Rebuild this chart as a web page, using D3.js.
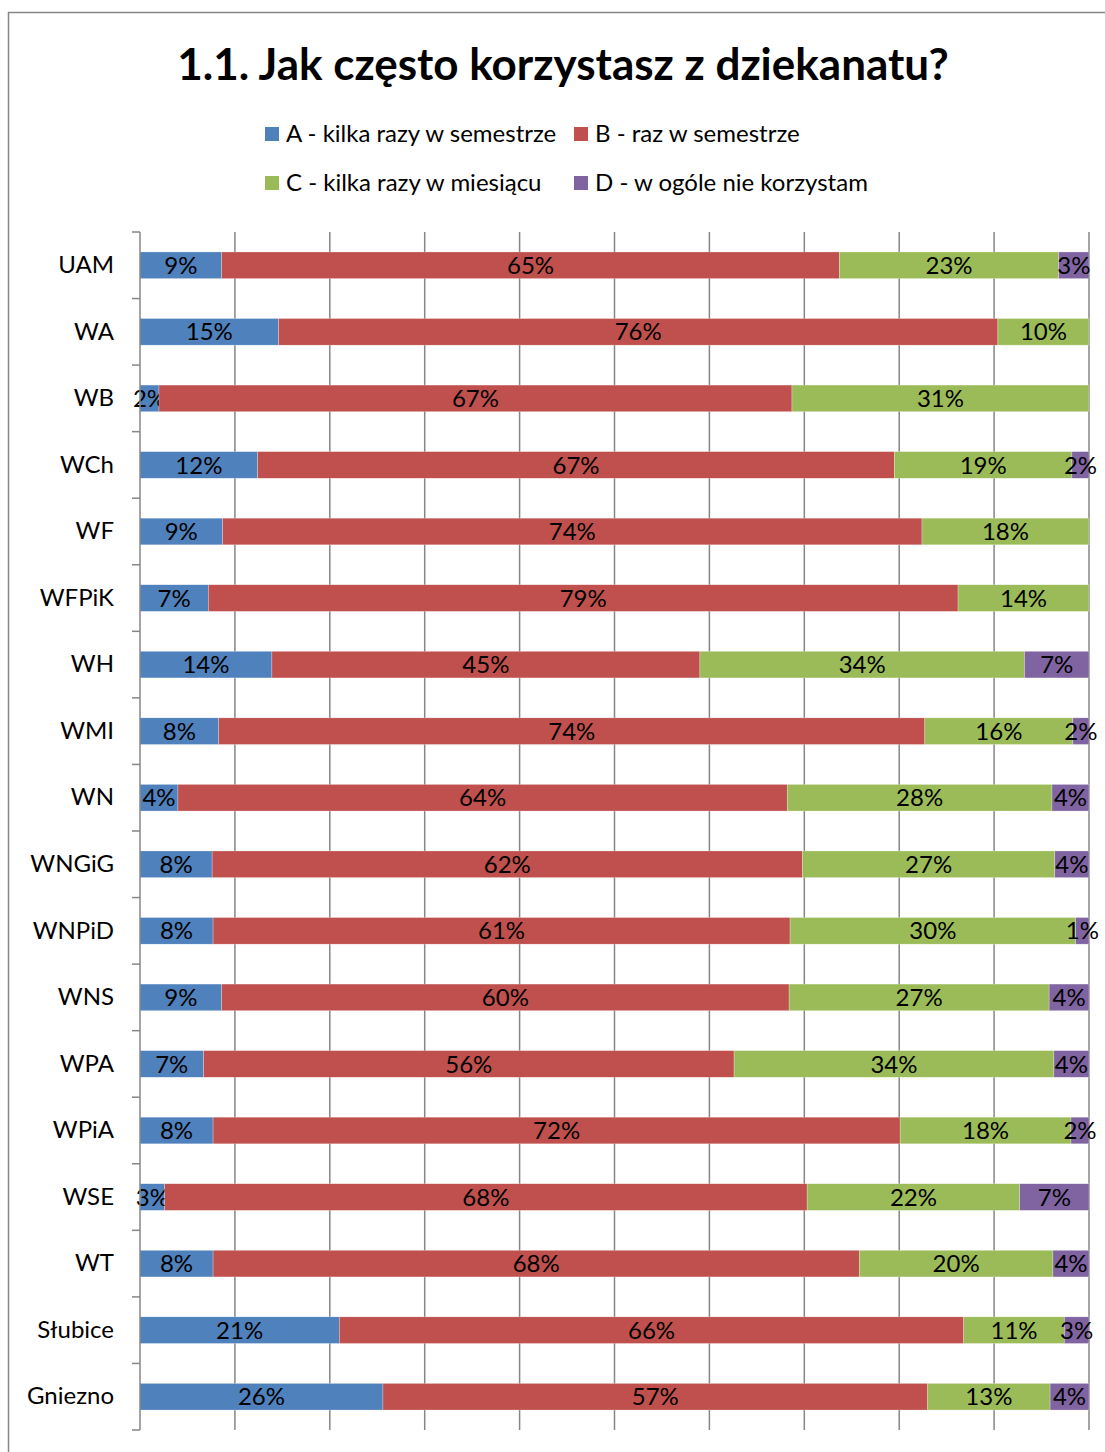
<!DOCTYPE html>
<html><head><meta charset="utf-8">
<script src="https://cdn.jsdelivr.net/npm/d3@7"></script>
<style>
body{margin:0;background:#fff;}
svg text{font-family:Lato, "Open Sans", sans-serif;}
</style></head>
<body><svg id="c" width="1105" height="1452"></svg>
<script>
const title = "1.1. Jak często korzystasz z dziekanatu?";
const categories = ["UAM","WA","WB","WCh","WF","WFPiK","WH","WMI","WN","WNGiG","WNPiD","WNS","WPA","WPiA","WSE","WT","Słubice","Gniezno"];
const seriesNames = ["A - kilka razy w semestrze","B - raz w semestrze","C - kilka razy w miesiącu","D - w ogóle nie korzystam"];
const seriesA = [8.6,14.6,2.0,12.4,8.7,7.2,13.9,8.3,4.0,7.6,7.7,8.6,6.7,7.7,2.6,7.7,21.0,25.6];
const seriesB = [65.1,75.8,66.7,67.1,73.7,79.0,45.1,74.4,64.2,62.2,60.8,59.8,55.9,72.4,67.7,68.1,65.8,57.4];
const seriesC = [23.1,9.6,31.3,18.7,17.6,13.8,34.2,15.6,27.9,26.6,30.1,27.4,33.7,18.0,22.4,20.4,10.6,12.9];
const seriesD = [3.2,0,0,1.8,0,0,6.8,1.7,3.9,3.6,1.4,4.2,3.7,1.9,7.3,3.8,2.6,4.1];
const xTicks = [0,10,20,30,40,50,60,70,80,90,100];
const colors = ["#4F81BD","#C0504D","#9BBB59","#8064A2"];

const keys = ["A","B","C","D"];
const table = categories.map((c,i)=>({cat:c,A:seriesA[i],B:seriesB[i],C:seriesC[i],D:seriesD[i]}));
const stacked = d3.stack().keys(keys)(table);

const svg = d3.select("#c");
const FS = 24;
// outer frame
svg.append("rect").attr("x",8.5).attr("y",12.5).attr("width",1200).attr("height",1500)
  .attr("fill","none").attr("stroke","#868686").attr("stroke-width",1.5);

svg.append("text").attr("x",563).attr("y",80).attr("text-anchor","middle")
  .attr("font-size",44).attr("font-weight","bold").attr("fill","#000").text(title);

// legend
const legPos = [[265,134],[574,134],[265,183],[574,183]];
seriesNames.forEach((n,i)=>{
  const g = svg.append("g").attr("transform",`translate(${legPos[i][0]},${legPos[i][1]})`);
  g.append("rect").attr("x",0).attr("y",-7).attr("width",14).attr("height",14).attr("fill",colors[i]);
  g.append("text").attr("x",21).attr("y",0).attr("dy","0.35em").attr("font-size",FS).attr("fill","#000").text(n);
});

const x = d3.scaleLinear().domain([0,100]).range([140,1089]);
const y = d3.scaleBand().domain(categories).range([232,1430]).paddingInner(0.6).paddingOuter(0.3);

// gridlines
svg.append("g").selectAll("line").data(xTicks.slice(1)).join("line")
  .attr("x1",d=>x(d)).attr("x2",d=>x(d)).attr("y1",232).attr("y2",1430)
  .attr("stroke","#868686").attr("stroke-width",1.5);

// bars
const layer = svg.append("g").selectAll("g").data(stacked).join("g").attr("fill",(d,i)=>colors[i]);
layer.selectAll("rect").data(d=>d).join("rect")
  .attr("x",d=>x(d[0])).attr("width",d=>x(d[1])-x(d[0]))
  .attr("y",d=>y(d.data.cat)).attr("height",y.bandwidth())
  .attr("stroke","#ffffff").attr("stroke-opacity",0.5).attr("stroke-width",0.5);

// labels
layer.selectAll("text").data(d=>d.filter(v=>v[1]-v[0]>0)).join("text")
  .attr("x",d=>(x(d[0])+x(d[1]))/2).attr("y",d=>y(d.data.cat)+y.bandwidth()/2)
  .attr("dy","0.36em").attr("text-anchor","middle").attr("font-size",FS).attr("fill","#000")
  .text(d=>Math.round(d[1]-d[0])+"%");

// y axis
const step = y.step();
const r0 = y.range()[0];
svg.append("line").attr("x1",140).attr("x2",140).attr("y1",232).attr("y2",1430)
  .attr("stroke","#868686").attr("stroke-width",1.5);
svg.append("g").selectAll("line").data(d3.range(categories.length+1)).join("line")
  .attr("x1",132).attr("x2",140).attr("y1",i=>r0+i*step).attr("y2",i=>r0+i*step)
  .attr("stroke","#868686").attr("stroke-width",1.5);
const yAxis = d3.axisLeft(y).tickSize(0).tickPadding(26);
const ga = svg.append("g").attr("transform","translate(140,0)").call(yAxis);
ga.select(".domain").remove();
ga.selectAll("text").attr("font-size",FS).attr("fill","#000").attr("font-family","Lato, 'Open Sans', sans-serif");
</script></body></html>
